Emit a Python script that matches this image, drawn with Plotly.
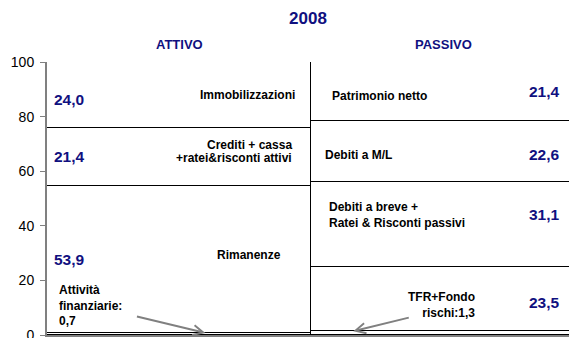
import plotly.graph_objects as go

# ---- data ----
columns = ["ATTIVO", "PASSIVO"]
title_text = "2008"

attivo_items = [["Attività", "finanziarie:"], ["Rimanenze"], ["Crediti + cassa", "+ratei&amp;risconti attivi"], ["Immobilizzazioni"]]
attivo_values = [0.7, 53.9, 21.4, 24.0]

passivo_items = [["TFR+Fondo", "rischi:"], [], ["Debiti a breve +", "Ratei &amp; Risconti passivi"], ["Debiti a M/L"], ["Patrimonio netto"]]
passivo_values = [1.3, 23.5, 31.1, 22.6, 21.4]

y_ticks = [0, 20, 40, 60, 80, 100]

# ---- style ----
NAVY = "#10107f"
FONT = "Arial, Liberation Sans, sans-serif"
NAME_SIZE = 12
VALUE_SIZE = 15.5
LINE_H = 13


def fmt(v):
    return f"{v:.1f}".replace(".", ",")


def bold_lines(lines):
    return "<br>".join(f"<b>{ln}</b>" for ln in lines)


fig = go.Figure()

for col, values in zip(columns, [attivo_values, passivo_values]):
    for v in values:
        fig.add_trace(go.Bar(
            x=[col], y=[v],
            marker=dict(color="white", line=dict(color="black", width=1.5)),
            showlegend=False, hoverinfo="skip",
        ))

annotations = []


def mids(values):
    out, base = [], 0.0
    for v in values:
        out.append(base + v / 2)
        base += v
    return out


a_mid = mids(attivo_values)
p_mid = mids(passivo_values)

# ATTIVO labels (bar spans category 0 -> edges at -0.5 and 0.5)
for i, yshift in [(1, 0), (2, 0), (3, -5)]:
    annotations.append(dict(x=-0.5, y=a_mid[i], xref="x", yref="y", xanchor="left",
                            xshift=5, yshift=yshift, text=f"<b>{fmt(attivo_values[i])}</b>",
                            showarrow=False, font=dict(family=FONT, size=VALUE_SIZE, color=NAVY)))
for i, xshift, yshift in [(1, -28, 5), (2, -17, 5), (3, -14, 0)]:
    lines = attivo_items[i]
    n = len(lines)
    for k, ln in enumerate(lines):
        offset = ((n - 1) / 2 - k) * LINE_H
        annotations.append(dict(x=0.5, y=a_mid[i], xref="x", yref="y", xanchor="right",
                                xshift=xshift, yshift=yshift + offset, text=f"<b>{ln}</b>",
                                showarrow=False, font=dict(family=FONT, size=NAME_SIZE, color="black")))
annotations.append(dict(x=-0.5, y=a_mid[0], xref="x", yref="y", xanchor="left", yanchor="bottom",
                        align="left", xshift=10, yshift=4,
                        text=bold_lines(attivo_items[0] + [fmt(attivo_values[0])]),
                        showarrow=False, font=dict(family=FONT, size=NAME_SIZE, color="black")))
annotations.append(dict(x=0.1, y=a_mid[0], xref="x", yref="y", text="", showarrow=True,
                        arrowhead=5, arrowsize=1, arrowwidth=2, arrowcolor="#808080",
                        ax=-70, ay=-17, yshift=1))

# PASSIVO labels (bar spans category 1 -> left edge at 0.5)
for i, yshift in [(1, -3), (2, 10), (3, -3), (4, 0)]:
    annotations.append(dict(x=1.0, y=p_mid[i], xref="x", yref="y", xanchor="right",
                            xshift=119, yshift=yshift, text=f"<b>{fmt(passivo_values[i])}</b>",
                            showarrow=False, font=dict(family=FONT, size=VALUE_SIZE, color=NAVY)))
for i, xshift, yshift in [(2, 16, 10), (3, 12, -3), (4, 19, -5)]:
    annotations.append(dict(x=0.5, y=p_mid[i], xref="x", yref="y", xanchor="left", align="left",
                            xshift=xshift, yshift=yshift, text=bold_lines(passivo_items[i]),
                            showarrow=False, font=dict(family=FONT, size=NAME_SIZE, color="black")))
tfr_lines = passivo_items[0][:-1] + [passivo_items[0][-1] + fmt(passivo_values[0])]
annotations.append(dict(x=1.0, y=p_mid[0], xref="x", yref="y", xanchor="right", yanchor="bottom",
                        align="right", xshift=34, yshift=11,
                        text=bold_lines(tfr_lines),
                        showarrow=False, font=dict(family=FONT, size=NAME_SIZE, color="black")))
annotations.append(dict(x=0.66, y=p_mid[0], xref="x", yref="y", text="", showarrow=True,
                        arrowhead=5, arrowsize=1, arrowwidth=2, arrowcolor="#808080",
                        ax=57, ay=-14, yshift=2))

for col in columns:
    annotations.append(dict(x=col, y=1, xref="x", yref="paper", yanchor="middle", yshift=18,
                            text=f"<b>{col}</b>", showarrow=False,
                            font=dict(family=FONT, size=13, color=NAVY)))

fig.update_layout(
    width=569, height=338,
    margin=dict(l=47, r=0, t=62, b=3, autoexpand=False),
    paper_bgcolor="white", plot_bgcolor="white",
    barmode="stack", bargap=0,
    title=dict(text=f"<b>{title_text}</b>", x=308 / 569, xref="container", xanchor="center",
               y=1 - 18 / 338, yref="container", yanchor="middle",
               font=dict(family=FONT, size=17, color=NAVY)),
    annotations=annotations,
    font=dict(family=FONT),
)
fig.update_xaxes(range=[-0.5, 1.477], showticklabels=False, ticks="", showgrid=False,
                 showline=True, linecolor="#808080", linewidth=2, zeroline=False, automargin=False)
fig.update_yaxes(range=[0, 100], tickvals=y_ticks, ticks="outside", ticklen=5,
                 tickcolor="#808080", showgrid=False, showline=True, linecolor="#808080",
                 linewidth=2, zeroline=False, ticklabeloverflow="allow", ticklabelstandoff=3,
                 automargin=False, tickfont=dict(family=FONT, size=14, color="black"))

fig.write_html("out.html", config={"displayModeBar": False},
               post_script="document.body.style.margin='0';document.body.style.overflow='hidden';")
